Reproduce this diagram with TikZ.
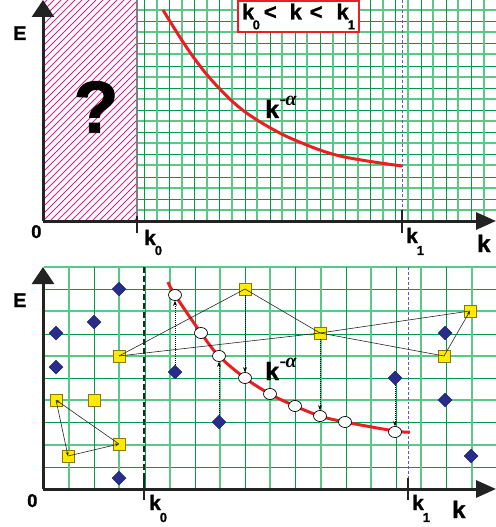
\documentclass[tikz,border=0pt]{standalone}
\usepackage{fontspec}
\setmainfont{Liberation Sans}[BoldFeatures={FakeBold=1.2}]
\newfontfamily\greekf{Liberation Serif}
\usetikzlibrary{arrows.meta,shapes.geometric}
\definecolor{gridD}{RGB}{0,155,70}
\definecolor{gridL}{RGB}{90,200,135}
\definecolor{hatchc}{RGB}{225,30,145}
\definecolor{axisc}{RGB}{35,35,35}
\definecolor{curvered}{RGB}{235,30,35}
\definecolor{sqfill}{RGB}{255,235,0}
\definecolor{sqdraw}{RGB}{140,120,0}
\definecolor{dmfill}{RGB}{40,45,140}
\definecolor{kblue}{RGB}{90,90,210}
\begin{document}
\begin{tikzpicture}[x=1bp,y=-1bp,
  gdark/.style={draw=gridD,line width=1.1bp},
  glight/.style={draw=gridL,line width=2bp},
  axisline/.style={draw=axisc,line width=3bp},
  tickline/.style={draw=axisc,line width=1.6bp},
  redcurve/.style={draw=curvered,line width=3bp},
  lab/.style={font=\bfseries\fontsize{20}{20}\selectfont,inner sep=0pt},
  sqnode/.style={rectangle,fill=sqfill,draw=sqdraw,line width=0.8pt,minimum size=12bp,inner sep=0pt},
  dmnode/.style={diamond,aspect=1,fill=dmfill,draw=dmfill!70!black,line width=0.5pt,minimum size=14bp,inner sep=0pt},
  cnode/.style={ellipse,fill=white,draw=black,line width=0.7pt,minimum width=13bp,minimum height=11bp,inner sep=0pt},
  link/.style={draw=black!85,line width=0.6pt},
  linkarr/.style={link,-{Stealth[length=4pt,width=3pt]}},
  dotarr/.style={draw=black,line width=0.8pt,dash pattern=on 1pt off 1pt,-{Stealth[length=5pt,width=4pt]}}
]
\useasboundingbox (0,0) rectangle (496,527);

% ================= TOP PANEL =================
% hatched region
\begin{scope}
  \clip (43,0) rectangle (137,221);
  \foreach \i in {-231,-224,...,100}
    \draw[hatchc,line width=0.8pt] (43+\i,221) -- (43+\i+221,0);
\end{scope}
% fine grid
\foreach \n in {1,...,19}{
  \ifodd\n\relax
    \pgfmathsetmacro\yy{round(221-11.1*\n)}
    \draw[glight] (137,\yy) -- (496,\yy);
  \else
    \pgfmathsetmacro\yy{round(221-11.1*\n)+0.5}
    \draw[gdark] (137,\yy) -- (496,\yy);
  \fi
}
\foreach \n in {0,...,28}{
  \ifodd\n\relax
    \pgfmathsetmacro\xx{round(144+12.575*\n)}
    \draw[glight] (\xx,0) -- (\xx,221);
  \else
    \pgfmathsetmacro\xx{round(144+12.575*\n)+0.5}
    \draw[gdark] (\xx,0) -- (\xx,221);
  \fi
}
% k0 border, k1 dashed
\coordinate (tk0top) at (137,0);
\coordinate (tk0bot) at (137,221);
\draw[draw=gray,line width=1.3pt] (tk0top) -- (tk0bot);
\coordinate (tk1top) at (402.5,0);
\coordinate (tk1bot) at (402.5,210);
\draw[kblue,line width=0.8pt,dashed,dash pattern=on 3pt off 2pt] (tk1top) -- (tk1bot);
% curve
\draw[redcurve] plot[smooth,tension=0.6] coordinates {(163,10) (183,42) (200,66) (217,86) (240,108) (267,126) (297,141) (340,156) (402,166)};
% axes
\coordinate (to) at (43,221);
\coordinate (tE) at (43,0);
\coordinate (tK) at (496,221);
\draw[axisline,-{Triangle[length=17bp,width=22bp]}] (to) -- (tE);
\draw[axisline,-{Triangle[length=20bp,width=17bp]}] (to) -- (tK);
% ticks
\coordinate (tt0a) at (137,216); \coordinate (tt0b) at (137,233);
\coordinate (tt1a) at (402,210); \coordinate (tt1b) at (402,233);
\draw[tickline] (tt0a) -- (tt0b);
\draw[tickline] (tt1a) -- (tt1b);
% labels
\node[lab,anchor=base west] (tEl) at (13,40) {\fontsize{20}{20}\selectfont E};
\node[lab,anchor=base west] (tOl) at (31,238) {\fontsize{18.5}{18}\selectfont 0};
\node[lab,anchor=base west] (tk0l) at (144,245) {\fontsize{21}{21}\selectfont k\kern-1pt\raisebox{-10pt}{\fontsize{13}{13}\selectfont 0}};
\node[lab,anchor=base west] (tk1l) at (406,243) {\fontsize{21}{21}\selectfont k\kern-1pt\raisebox{-12pt}{\fontsize{13}{13}\selectfont 1}};
\node[lab,anchor=base west] (tKl) at (477,252) {\fontsize{24}{24}\selectfont k};
\node[lab,font=\bfseries\fontsize{74}{74}\selectfont] (qm) at (96,107) {?};
\node[lab,anchor=base west] (tpow) at (265,118) {\fontsize{25}{25}\selectfont k\kern0.5pt\raisebox{13pt}{\greekf\fontsize{20}{20}\selectfont -\kern-0.5pt\itshape α}};
\node[rectangle,draw=curvered,line width=2pt,fill=white,minimum width=121bp,minimum height=31bp,inner sep=0pt,
      font=\bfseries\fontsize{22}{22}\selectfont] (range) at (298.5,16.5)
  {\raisebox{3pt}{k\kern-1.5pt\raisebox{-10pt}{\fontsize{13}{13}\selectfont 0}\kern4pt<\kern13pt k\kern8pt<\kern14pt k\kern-1pt\raisebox{-10pt}{\fontsize{13}{13}\selectfont 1}}};

% ================= BOTTOM PANEL =================
\foreach \n in {1,...,10}{
  \ifodd\n\relax
    \pgfmathsetmacro\yy{round(489-22.2*\n)+0.5}
    \draw[gdark] (44,\yy) -- (496,\yy);
  \else
    \pgfmathsetmacro\yy{round(489-22.2*\n)}
    \draw[glight] (44,\yy) -- (496,\yy);
  \fi
}
\foreach \n in {1,...,17}{
  \ifodd\n\relax
    \pgfmathsetmacro\xx{round(44+25.15*\n)}
    \draw[glight] (\xx,267) -- (\xx,489);
  \else
    \pgfmathsetmacro\xx{round(44+25.15*\n)+0.5}
    \draw[gdark] (\xx,267) -- (\xx,489);
  \fi
}
\coordinate (bk0top) at (144,267); \coordinate (bk0bot) at (144,478);
\draw[draw=axisc,line width=1.2pt,dashed,dash pattern=on 6pt off 3pt] (bk0top) -- (bk0bot);
\coordinate (bk1top) at (408.5,267); \coordinate (bk1bot) at (408.5,478);
\draw[kblue,line width=0.8pt,dashed,dash pattern=on 3pt off 2pt] (bk1top) -- (bk1bot);
% curve
\draw[redcurve] plot[smooth,tension=0.6] coordinates {(168,282) (175,295) (201,333) (219,356) (245,378) (270,394) (295,406) (320,416) (345,422) (395,431) (410,432)};
% axes
\coordinate (bo) at (43,489);
\coordinate (bE) at (43,267);
\coordinate (bK) at (496,489);
\draw[axisline,-{Triangle[length=17bp,width=22bp]}] (bo) -- (bE);
\draw[axisline,-{Triangle[length=20bp,width=17bp]}] (bo) -- (bK);
\coordinate (bt0a) at (144,478); \coordinate (bt0b) at (144,500);
\coordinate (bt1a) at (408,478); \coordinate (bt1b) at (408,500);
\draw[tickline] (bt0a) -- (bt0b);
\draw[tickline] (bt1a) -- (bt1b);
% labels
\node[lab,anchor=base west] (bEl) at (13,307) {\fontsize{20}{20}\selectfont E};
\node[lab,anchor=base west] (bOl) at (27,507) {\fontsize{18.5}{18}\selectfont 0};
\node[lab,anchor=base west] (bk0l) at (149,510) {\fontsize{21}{21}\selectfont k\kern-1pt\raisebox{-12pt}{\fontsize{13}{13}\selectfont 0}};
\node[lab,anchor=base west] (bk1l) at (412,510) {\fontsize{21}{21}\selectfont k\kern-1pt\raisebox{-12pt}{\fontsize{13}{13}\selectfont 1}};
\node[lab,anchor=base west] (bKl) at (452,518) {\fontsize{24}{24}\selectfont k};
\node[lab,anchor=base west] (bpow) at (265,380) {\fontsize{25}{25}\selectfont k\kern0.5pt\raisebox{13pt}{\greekf\fontsize{20}{20}\selectfont -\kern-0.5pt\itshape α}};
% circles on curve
\node[cnode] (c1) at (175,295) {};
\node[cnode] (c2) at (201,333) {};
\node[cnode] (c3) at (219,356) {};
\node[cnode] (c4) at (245,378) {};
\node[cnode] (c5) at (270,394) {};
\node[cnode] (c6) at (295,406) {};
\node[cnode] (c7) at (320,416) {};
\node[cnode] (c8) at (345,422) {};
\node[cnode] (c9) at (395,432) {};
% yellow squares
\node[sqnode] (sA) at (119,356) {};
\node[sqnode] (sB) at (56,400) {};
\node[sqnode] (sC) at (94,400) {};
\node[sqnode] (sD) at (68,456) {};
\node[sqnode] (sE) at (119,444) {};
\node[sqnode] (sF) at (245,289) {};
\node[sqnode] (sG) at (320,333) {};
\node[sqnode] (sH) at (470,311) {};
\node[sqnode] (sI) at (444,356) {};
% blue diamonds
\node[dmnode] (d1) at (119,289) {};
\node[dmnode] (d2) at (94,322) {};
\node[dmnode] (d3) at (56,333) {};
\node[dmnode] (d4) at (56,367) {};
\node[dmnode] (d5) at (175,372) {};
\node[dmnode] (d6) at (219,422) {};
\node[dmnode] (d7) at (119,478) {};
\node[dmnode] (d8) at (395,378) {};
\node[dmnode] (d9) at (445,333) {};
\node[dmnode] (d10) at (445,400) {};
\node[dmnode] (d11) at (471,456) {};
% links between squares
\draw[link] (sA.center) -- (sF.center);
\draw[link] (sF.center) -- (sG.center);
\draw[link] (sA.center) -- (sG.center);
\draw[link] (sG.center) -- (sH.center);
\draw[link] (sG.center) -- (sI.center);
\draw[linkarr] (sI.center) -- (sH.center);
\draw[linkarr] (sB.center) -- (sD.center);
\draw[linkarr] (sD.center) -- (sE.center);
\draw[linkarr] (sE.center) -- (sB.center);
% dotted transitions
\draw[dotarr] (d5) -- (c1);
\draw[dotarr] (sF) -- (c4);
\draw[dotarr] (d6) -- (c3);
\draw[dotarr] (sG) -- (c7);
\draw[dotarr] (d8) -- (c9);
\end{tikzpicture}
\end{document}
